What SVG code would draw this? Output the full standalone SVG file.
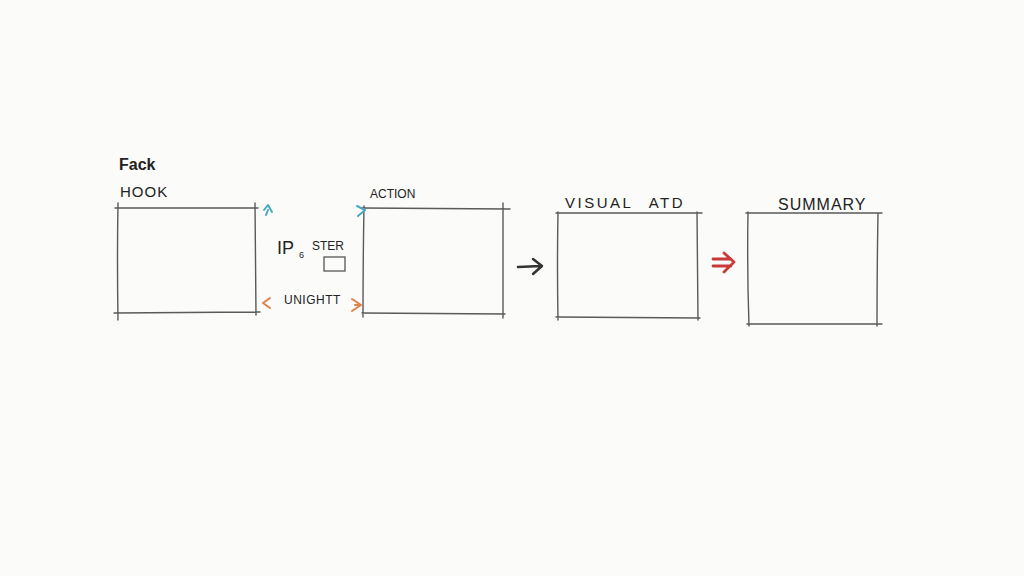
<svg xmlns="http://www.w3.org/2000/svg" width="1024" height="576" viewBox="0 0 1024 576">
<style>
.ln{fill:none;stroke:#5a5a5a;stroke-width:1.4;stroke-linecap:round}
.t{font-family:"Liberation Sans",Arial,sans-serif;fill:#222}
.cy{fill:none;stroke:#4aa8c0;stroke-width:2;stroke-linecap:round;stroke-linejoin:round}
.or{fill:none;stroke:#e0824a;stroke-width:2;stroke-linecap:round;stroke-linejoin:round}
</style>
<rect width="1024" height="576" fill="#fbfbf9"/>
<g id="hook">
<text class="t" x="119" y="170" font-size="16" font-weight="bold">Fack</text>
<text class="t" x="120" y="197" font-size="15" letter-spacing="1">HOOK</text>
<path class="ln" d="M115 208 L258 208 M118 203 Q117 260 118 320 M255 203 L256 315 M114 313 L260 312"/>
</g>
<g id="middle">
<text class="t" x="277" y="254" font-size="18">IP</text>
<text class="t" x="299" y="258" font-size="9">6</text>
<text class="t" x="312" y="250" font-size="12">STER</text>
<rect x="324" y="257" width="21" height="14" fill="none" stroke="#555" stroke-width="1.3"/>
<text class="t" x="284" y="304" font-size="12" letter-spacing="0.5">UNIGHTT</text>
</g>
<g id="action">
<text class="t" x="370" y="198" font-size="12">ACTION</text>
<path class="ln" d="M362 208 L510 209 M364 206 Q363 260 363 317 M503 203 L503 318 M362 313 L505 314"/>
</g>
<g id="visual">
<text class="t" x="565" y="208" font-size="15" letter-spacing="2.5">VISUAL <tspan dx="10">ATD</tspan></text>
<path class="ln" d="M556 213 L702 213 M558 212 Q557 265 558 320 M697 212 L698 320 M556 317 L700 318"/>
</g>
<g id="summary">
<text class="t" x="778" y="210" font-size="16" letter-spacing="1">SUMMARY</text>
<path class="ln" d="M746 213 L882 213 M748 212 Q747 270 749 326 M878 213 Q877 270 877 326 M747 324 L882 324"/>
</g>
<g id="connectors">
<path class="cy" d="M264 210 L268 205 L272 212 M266 215 L268 210"/>
<path class="cy" d="M357 206 L365 210 L358 216"/>
<path class="or" d="M270 298 L263 303 L270 308"/>
<path class="or" d="M352 299 L361 305 L352 311 M355 305 L361 305"/>
<path fill="none" stroke="#333" stroke-width="2.5" stroke-linecap="round" stroke-linejoin="round" d="M518 267 L541 266 M533 259 L542 266 L533 274"/>
<path fill="none" stroke="#c83a3a" stroke-width="2.8" stroke-linecap="round" stroke-linejoin="round" d="M713 259 L731 259 M713 266 L731 266 M724 253 L734 262 L724 272"/>
</g>
</svg>
